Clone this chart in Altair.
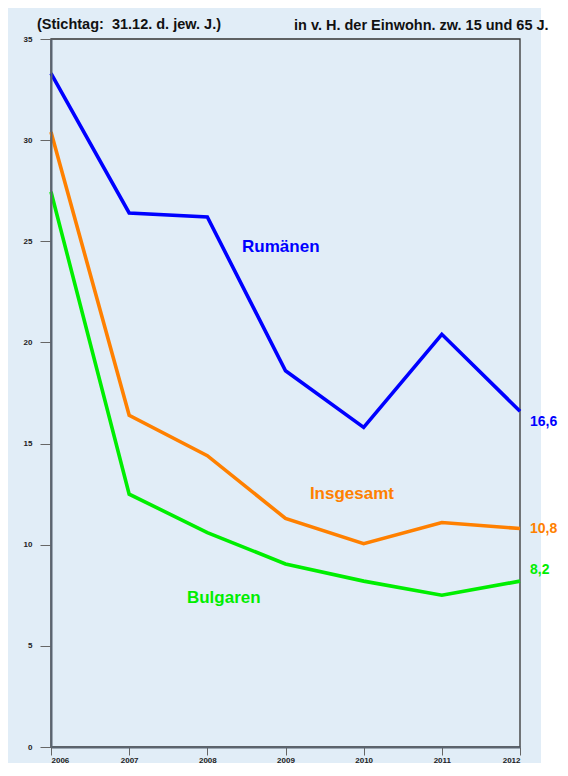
import altair as alt
import pandas as pd

years = [2006, 2007, 2008, 2009, 2010, 2011, 2012]
rumaenen = [33.3, 26.4, 26.2, 18.6, 15.8, 20.4, 16.6]
insgesamt = [30.4, 16.4, 14.4, 11.3, 10.05, 11.1, 10.8]
bulgaren = [27.45, 12.5, 10.6, 9.05, 8.2, 7.5, 8.2]

series_names = ["Rumänen", "Insgesamt", "Bulgaren"]
colors = ["#0000ff", "#ff8000", "#00ee00"]

end_labels = ["16,6", "10,8", "8,2"]
end_label_y = [16.05, 10.8, 8.75]

name_label_x = [2008.94, 2009.85, 2008.21]
name_label_y = [24.7, 12.5, 7.35]

rows = []
for name, vals in zip(series_names, [rumaenen, insgesamt, bulgaren]):
    for y, v in zip(years, vals):
        rows.append({"year": y, "value": v, "series": name})
df = pd.DataFrame(rows)

ends = pd.DataFrame({"series": series_names, "label": end_labels,
                     "year": [2012] * 3, "value": end_label_y})
names = pd.DataFrame({"series": series_names, "label": series_names,
                      "year": name_label_x, "value": name_label_y})

color_scale = alt.Scale(domain=series_names, range=colors)
xscale = alt.Scale(domain=[2006, 2012], nice=False)
yscale = alt.Scale(domain=[0, 35], nice=False)

W, H = 469, 708

one = pd.DataFrame({"a": [0]})

bg = alt.Chart(one).mark_rect(color="#e1edf7").encode(
    x=alt.value(-46), x2=alt.value(490), y=alt.value(-40), y2=alt.value(H + 30)
)

frame = alt.Chart(one).mark_rect(fillOpacity=0, stroke="#333", strokeWidth=1.3).encode(
    x=alt.value(0), x2=alt.value(W), y=alt.value(0), y2=alt.value(H)
)

lines = alt.Chart(df).mark_line(strokeWidth=3.6).encode(
    x=alt.X("year:Q", scale=xscale,
            axis=alt.Axis(values=[2006 + 0.5 * i for i in range(13)],
                          labelExpr="datum.value % 1 == 0 ? format(datum.value, 'd') : ''",
                          title=None, grid=False, tickSize=8, labelPadding=1,
                          labelFontSize=8, labelFontWeight="bold", labelColor="#222",
                          tickColor="#666", domainColor="#5a6470", domainWidth=2,
                          labelFont="Liberation Sans", labelOverlap=False, zindex=1)),
    y=alt.Y("value:Q", scale=yscale,
            axis=alt.Axis(values=list(range(0, 36, 5)), title=None, grid=False,
                          tickSize=11, labelPadding=8, labelFontSize=8,
                          labelFontWeight="bold", labelColor="#222",
                          tickColor="#666", domainColor="#5a6470", domainWidth=2,
                          labelFont="Liberation Sans", zindex=1)),
    color=alt.Color("series:N", scale=color_scale, legend=None),
    detail="series:N",
)

end_text = alt.Chart(ends).mark_text(align="left", dx=10, fontSize=14,
                                     fontWeight="bold", font="Liberation Sans").encode(
    x=alt.X("year:Q", scale=xscale),
    y=alt.Y("value:Q", scale=yscale),
    text="label:N",
    color=alt.Color("series:N", scale=color_scale, legend=None),
)

name_text = alt.Chart(names).mark_text(align="center", fontSize=17,
                                       fontWeight="bold", font="Liberation Sans").encode(
    x=alt.X("year:Q", scale=xscale),
    y=alt.Y("value:Q", scale=yscale),
    text="label:N",
    color=alt.Color("series:N", scale=color_scale, legend=None),
)

t1 = alt.Chart(pd.DataFrame({"t": ["(Stichtag:\u00a0 31.12. d. jew. J.)"]})).mark_text(
    align="left", baseline="middle", fontSize=14.5, fontWeight="bold",
    font="Liberation Sans", color="#111").encode(
    x=alt.value(-14), y=alt.value(-14), text="t:N")

t2 = alt.Chart(pd.DataFrame({"t": ["in v. H. der Einwohn. zw. 15 und 65 J."]})).mark_text(
    align="left", baseline="middle", fontSize=14.5, fontWeight="bold",
    font="Liberation Sans", color="#111").encode(
    x=alt.value(243), y=alt.value(-13), text="t:N")

chart = alt.layer(bg, frame, lines, name_text, end_text, t1, t2).properties(
    width=W, height=H,
    autosize=alt.AutoSizeParams(type="none"),
    padding={"left": 43, "top": 31, "right": 39, "bottom": 16},
    background="white",
).configure_view(stroke=None)

chart.save("out.html", embed_options={"renderer": "svg", "actions": False})
